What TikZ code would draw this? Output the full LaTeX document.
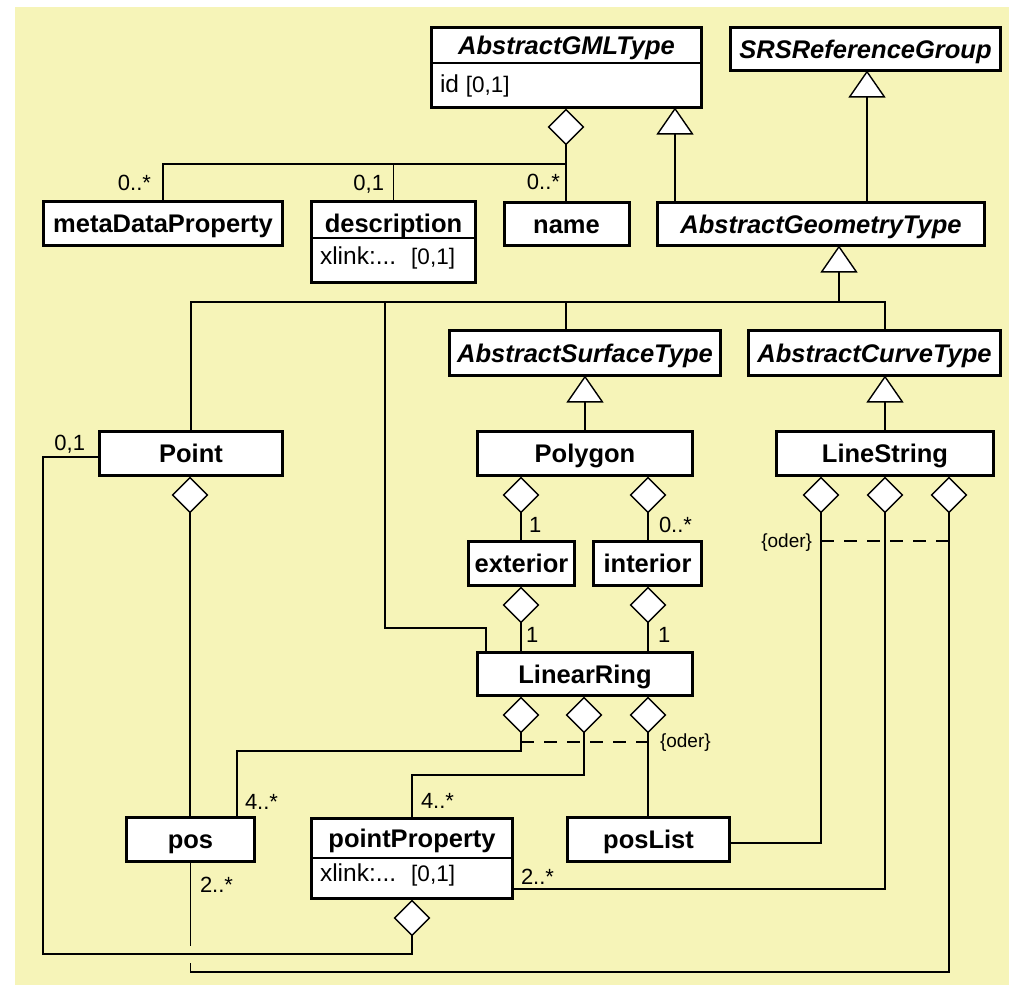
\documentclass[tikz,border=0pt]{standalone}
\usepackage{fontspec}
\setmainfont{Liberation Sans}
\usetikzlibrary{shapes.geometric,arrows.meta}
\definecolor{paper}{RGB}{246,244,184}

\begin{document}
\begin{tikzpicture}[x=1pt,y=-1pt,
  every node/.style={inner sep=0pt, outer sep=0pt},
  namefont/.style={font=\fontsize{25.5}{30}\selectfont\bfseries},
  absfont/.style={font=\fontsize{25.5}{30}\selectfont\bfseries\itshape},
  cls/.style={draw, fill=white, line width=3pt, namefont, text height=18.3pt, text depth=0pt},
  abscls/.style={cls, absfont},
  ttl/.style={namefont, text height=18.3pt, text depth=0pt},
  absttl/.style={ttl, absfont},
  attr/.style={anchor=west, font=\fontsize{24.5}{29}\selectfont, text height=17.5pt, text depth=0pt},
  mult/.style={font=\fontsize{22}{26}\selectfont, text height=15.8pt, text depth=0pt},
  cond/.style={font=\fontsize{19}{23}\selectfont},
  link/.style={line width=1.4pt},
  divider/.style={line width=1.2pt},
  orline/.style={line width=1.4pt, dash pattern=on 13pt off 10pt},
  agg/.style={diamond, draw, fill=white, line width=1.4pt, aspect=1, minimum width=34.6pt, minimum height=34.6pt},
  gen/.style={link, -{Triangle[length=27pt,width=37pt,fill=white]}},
]
\useasboundingbox (0,0) rectangle (1009,985);
\fill[paper] (15,7) rectangle (1009,985);

% ---- classes ----
\node[abscls, minimum width=270, minimum height=80] (gml) at (566.5,67.5) {};
\node[absttl] (gmlT) at (566.5,45.5) {AbstractGMLType};
\node[attr] (gmlA) at (440,84) {id {\fontsize{22.5}{26}\selectfont[0,1]}};
\coordinate (gmlDiv) at (0,63);
\draw[divider] (gml.west |- gmlDiv) -- (gml.east |- gmlDiv);

\node[abscls, minimum width=270, minimum height=43] (srs) at (865.5,49) {SRSReferenceGroup};

\node[cls, minimum width=239, minimum height=44] (meta) at (163,223.5) {metaDataProperty};

\node[cls, minimum width=164, minimum height=81] (desc) at (393.5,242) {};
\node[ttl] (descT) at (393.5,223) {description};
\node[attr] (descA) at (320,256) {xlink:...\hspace{15pt}{\fontsize{22.5}{26}\selectfont[0,1]}};
\coordinate (descDiv) at (0,238);
\draw[divider] (desc.west |- descDiv) -- (desc.east |- descDiv);

\node[cls, minimum width=125, minimum height=43] (name) at (566.5,224) {name};
\node[abscls, minimum width=327, minimum height=43] (geom) at (821,224) {AbstractGeometryType};

\node[abscls, minimum width=271, minimum height=45] (surf) at (585,353) {AbstractSurfaceType};
\node[abscls, minimum width=252, minimum height=45] (curve) at (874.5,353) {AbstractCurveType};

\node[cls, minimum width=183, minimum height=44] (point) at (191,453.5) {Point};
\node[cls, minimum width=215, minimum height=44] (poly) at (585,453.5) {Polygon};
\node[cls, minimum width=217, minimum height=44] (lines) at (885,453.5) {LineString};

\node[cls, minimum width=106, minimum height=44] (ext) at (521.5,563.5) {exterior};
\node[cls, minimum width=108, minimum height=44] (int) at (647.5,563.5) {interior};

\node[cls, minimum width=215, minimum height=43] (ring) at (585,674) {LinearRing};

\node[cls, minimum width=128, minimum height=44] (pos) at (190.5,839.5) {pos};
\node[cls, minimum width=201, minimum height=80] (pp) at (412,858.5) {};
\node[ttl] (ppT) at (412,838) {pointProperty};
\node[attr] (ppA) at (320,873) {xlink:...\hspace{15pt}{\fontsize{22.5}{26}\selectfont[0,1]}};
\coordinate (ppDiv) at (0,858);
\draw[divider] (pp.west |- ppDiv) -- (pp.east |- ppDiv);
\node[cls, minimum width=162, minimum height=44] (plist) at (648.5,839.5) {posList};

% ---- aggregation diamonds ----
\node[agg] (dGML) at (566,127) {};
\node[agg] (dPoint) at (190,495) {};
\node[agg] (dPolyE) at (521,495) {};
\node[agg] (dPolyI) at (648,495) {};
\node[agg] (dExt) at (521,605) {};
\node[agg] (dInt) at (648,605) {};
\node[agg] (dRing1) at (521,715) {};
\node[agg] (dRing2) at (584,715) {};
\node[agg] (dRing3) at (648,715) {};
\node[agg] (dLs1) at (821,495) {};
\node[agg] (dLs2) at (885,495) {};
\node[agg] (dLs3) at (949,495) {};
\node[agg] (dPP) at (412,918) {};

% ---- helper coordinates ----
\coordinate (jG) at (566,164);
\coordinate (xA) at (675,0);
\coordinate (xS) at (867,0);
\coordinate (xC) at (885,0);
\coordinate (xSf) at (566,0);
\coordinate (jGeo) at (839,302);
\coordinate (rA) at (486,0);
\coordinate (rk) at (385,628);
\coordinate (cL) at (43,954);
\coordinate (gapT) at (0,946);
\coordinate (gapB) at (0,963);
\coordinate (cR) at (949,972);
\coordinate (k1) at (237,751);
\coordinate (k2) at (412,775);
\coordinate (or1) at (0,742);
\coordinate (or2) at (0,541);

% ---- AbstractGMLType parts ----
\draw[link] (dGML.south) -- (dGML.south |- name.north);
\draw[link] (meta.north) |- (jG);
\draw[link] (desc.north) -- (desc.north |- jG);

% ---- generalisations ----
\draw[gen] (geom.north -| xA) -- (gml.south -| xA);
\draw[gen] (geom.north -| xS) -- (srs.south -| xS);
\draw[gen] (jGeo) -- (geom.south -| jGeo);
\draw[link] (point.north) |- (jGeo) -| (curve.north -| xC);
\draw[link] (surf.north -| xSf) -- (xSf |- jGeo);
\draw[link] (ring.north -| rA) |- (rk) -- (rk |- jGeo);
\draw[gen] (poly.north) -- (surf.south -| poly.north);
\draw[gen] (lines.north) -- (curve.south -| lines.north);

% ---- Polygon ----
\draw[link] (dPolyE.south) -- (ext.north -| dPolyE.south);
\draw[link] (dPolyI.south) -- (int.north -| dPolyI.south);
\draw[link] (dExt.south) -- (ring.north -| dExt.south);
\draw[link] (dInt.south) -- (ring.north -| dInt.south);

% ---- Point ----
\draw[link] (dPoint.south) -- (pos.north -| dPoint.south);
\draw[link] ([yshift=-3.5pt]point.west) -| (cL) -| (dPP.south);

% ---- pos of LineString (with crossing gap) ----
\draw[link] (pos.south) -- (pos.south |- gapT);
\draw[link] (pos.south |- gapB) |- (cR) -- (dLs3.south);

% ---- LinearRing ----
\draw[link] (dRing1.south) |- (k1) -- (pos.north -| k1);
\draw[link] (dRing2.south) |- (k2) -- (pp.north);
\draw[link] (dRing3.south) -- (plist.north -| dRing3.south);
\draw[orline] (dRing1.south |- or1) -- (dRing3.south |- or1);

% ---- LineString ----
\draw[link] ([yshift=-3.5pt]plist.east) -| (dLs1.south);
\draw[link] ([yshift=-30.5pt]pp.east) -| (dLs2.south);
\draw[orline] (dLs1.south |- or2) -- (dLs3.south |- or2);

% ---- multiplicities and constraints ----
\node[mult, anchor=east] (mMeta) at (151,183) {0..*};
\node[mult, anchor=east] (mDesc) at (384,183) {0,1};
\node[mult, anchor=east] (mName) at (560,182) {0..*};
\node[mult, anchor=east] (mPoint) at (85,443) {0,1};
\node[mult, anchor=west] (mPolyE) at (529,525) {1};
\node[mult, anchor=west] (mPolyI) at (659,525) {0..*};
\node[mult, anchor=west] (mExt) at (526,635) {1};
\node[mult, anchor=west] (mInt) at (658,635) {1};
\node[mult, anchor=west] (mPos) at (245,802) {4..*};
\node[mult, anchor=west] (mPP) at (421,801) {4..*};
\node[mult, anchor=west] (mPos2) at (200,885) {2..*};
\node[mult, anchor=west] (mPP2) at (521,877) {2..*};
\node[cond, anchor=east] (oLs) at (812,543) {\{oder\}};
\node[cond, anchor=west] (oRing) at (660,743) {\{oder\}};
\end{tikzpicture}
\end{document}
